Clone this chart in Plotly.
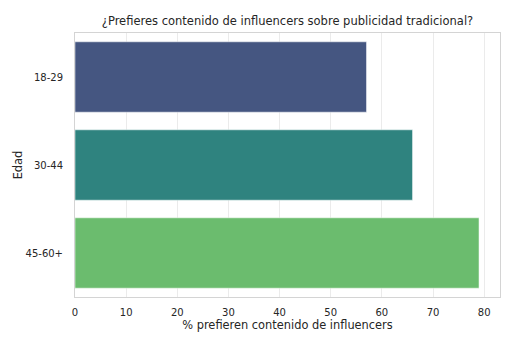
import plotly.graph_objects as go

categories = ["18-29", "30-44", "45-60+"]
values = [57, 66, 79]
colors = ["#455681", "#2f837f", "#6bbc6e"]
x_ticks = [0, 10, 20, 30, 40, 50, 60, 70, 80]

fig = go.Figure(go.Bar(
    x=values, y=categories, orientation="h",
    marker=dict(color=colors, line=dict(color="rgba(255,255,255,0.5)", width=1)),
    width=0.8,
))

font = "DejaVu Sans, sans-serif"
fig.update_layout(
    width=514, height=341,
    margin=dict(l=75, r=14, t=33, b=44, autoexpand=False),
    paper_bgcolor="white", plot_bgcolor="white",
    font=dict(family=font, size=10, color="#262626"),
    title=dict(text="¿Prefieres contenido de influencers sobre publicidad tradicional?",
               x=0.5, xref="paper", xanchor="center", y=0.938, yanchor="middle",
               font=dict(size=11.5, color="#262626")),
    showlegend=False,
    bargap=0.2,
)
fig.update_xaxes(
    range=[0, 83.1], tickvals=x_ticks, showgrid=True, gridcolor="#ebebeb", gridwidth=1,
    zeroline=False, showline=True, linecolor="#d4d4d4", linewidth=1, mirror=True,
    ticks="", ticklabelstandoff=6, automargin=False,
    title=dict(text="% prefieren contenido de influencers", font=dict(size=11.4), standoff=4),
)
fig.update_yaxes(
    categoryorder="array", categoryarray=categories, autorange="reversed",
    range=[2.5, -0.5], showgrid=False, zeroline=False,
    showline=True, linecolor="#d4d4d4", linewidth=1, mirror=True,
    ticks="", ticklabelstandoff=9, automargin=False,
    title=dict(text="Edad", font=dict(size=11.4), standoff=0),
)
fig.write_html("out.html")
